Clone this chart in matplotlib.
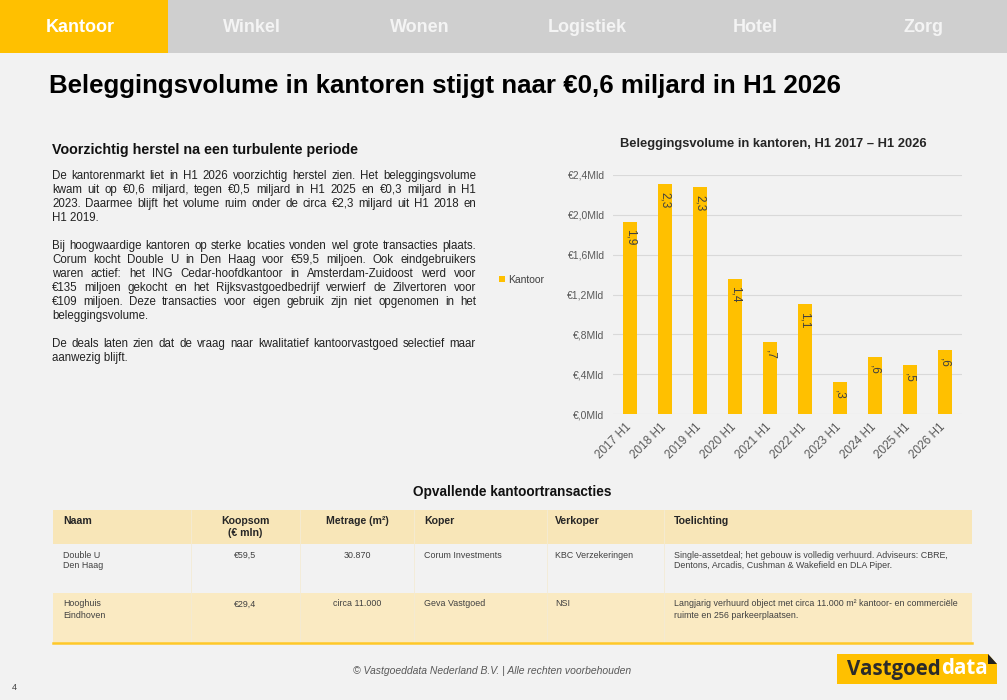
import numpy as np
import matplotlib.pyplot as plt
from matplotlib.patches import Rectangle, Polygon
from matplotlib.font_manager import FontProperties
from matplotlib.transforms import ScaledTranslation

plt.rcParams['font.family'] = ['Liberation Sans', 'DejaVu Sans']

# --- data ---
nav_tabs = ['Kantoor', 'Winkel', 'Wonen', 'Logistiek', 'Hotel', 'Zorg']

categories = ['2017 H1', '2018 H1', '2019 H1', '2020 H1', '2021 H1',
              '2022 H1', '2023 H1', '2024 H1', '2025 H1', '2026 H1']
volume = [1.93, 2.31, 2.28, 1.36, 0.72, 1.10, 0.32, 0.57, 0.49, 0.64]  # mld euro
bar_labels = ['1,9', '2,3', '2,3', '1,4', ',7', '1,1', ',3', ',6', ',5', ',6']
y_ticks = [0, 0.4, 0.8, 1.2, 1.6, 2.0, 2.4]
y_ticklabels = ['€,0Mld', '€,4Mld', '€,8Mld', '€1,2Mld', '€1,6Mld', '€2,0Mld', '€2,4Mld']

paragraphs = [
    ['De kantorenmarkt liet in H1 2026 voorzichtig herstel zien. Het beleggingsvolume',
     'kwam uit op €0,6 miljard, tegen €0,5 miljard in H1 2025 en €0,3 miljard in H1',
     '2023. Daarmee blijft het volume ruim onder de circa €2,3 miljard uit H1 2018 en',
     'H1 2019.'],
    ['Bij hoogwaardige kantoren op sterke locaties vonden wel grote transacties plaats.',
     'Corum kocht Double U in Den Haag voor €59,5 miljoen. Ook eindgebruikers',
     'waren actief: het ING Cedar-hoofdkantoor in Amsterdam-Zuidoost werd voor',
     '€135 miljoen gekocht en het Rijksvastgoedbedrijf verwierf de Zilvertoren voor',
     '€109 miljoen. Deze transacties voor eigen gebruik zijn niet opgenomen in het',
     'beleggingsvolume.'],
    ['De deals laten zien dat de vraag naar kwalitatief kantoorvastgoed selectief maar',
     'aanwezig blijft.'],
]

table_cols = ['Naam', 'Koopsom\n(€ mln)', 'Metrage (m²)', 'Koper', 'Verkoper', 'Toelichting']
table_rows = [
    ['Double U\nDen Haag', '€59,5', '30.870', 'Corum Investments', 'KBC Verzekeringen',
     'Single-assetdeal; het gebouw is volledig verhuurd. Adviseurs: CBRE,\n'
     'Dentons, Arcadis, Cushman & Wakefield en DLA Piper.'],
    ['Hooghuis\nEindhoven', '€29,4', 'circa 11.000', 'Geva Vastgoed', 'NSI',
     'Langjarig verhuurd object met circa 11.000 m² kantoor- en commerciële\n'
     'ruimte en 256 parkeerplaatsen.'],
]

# --- styling ---
YELLOW = '#FFC000'
BG = '#F2F2F2'
W, H = 1007, 700

fig = plt.figure(figsize=(W / 100, H / 100), dpi=100)
fig.patch.set_facecolor(BG)

# pagina-as in pixelcoordinaten
pg = fig.add_axes([0, 0, 1, 1])
pg.set_xlim(0, W)
pg.set_ylim(H, 0)
pg.axis('off')

# navigatiebalk
tab_w = W / len(nav_tabs)
for i, lab in enumerate(nav_tabs):
    pg.add_patch(Rectangle((i * tab_w, 0), tab_w, 53,
                           color=YELLOW if i == 0 else '#CFCFCF', lw=0))
    pg.text((i + 0.5) * tab_w - (4 if i == 0 else 0), 27, lab, ha='center', va='center',
            fontsize=13, weight='bold', color='white' if i == 0 else '#F4F4F4')

pg.text(49, 86, 'Beleggingsvolume in kantoren stijgt naar €0,6 miljard in H1 2026',
        ha='left', va='center', fontsize=18.6, weight='bold', color='black')

pg.text(52, 150, 'Voorzichtig herstel na een turbulente periode',
        ha='left', va='center', fontsize=10.3, weight='bold', color='#111111')

# uitgevulde tekst
fig.canvas.draw()
rend = fig.canvas.get_renderer()
body_fp = FontProperties(family='Liberation Sans', size=8.3)


def text_w(s, fp):
    w, h, d = rend.get_text_width_height_descent(s, fp, ismath=False)
    return w


tx = fig.add_axes([0, 0, 473 / W, 1])
tx.set_xlim(0, 473)
tx.set_ylim(H, 0)
tx.axis('off')

x0, x1 = 52, 476
y = 175
for para in paragraphs:
    for k, line in enumerate(para):
        words = line.split(' ')
        last = k == len(para) - 1
        if last or len(words) == 1:
            t = tx.text(x0, y + 4, line, ha='left', va='baseline', fontproperties=body_fp,
                        color='#222222')
            t.set_clip_box(tx.bbox)
        else:
            ws = [text_w(wd, body_fp) for wd in words]
            gap = (x1 - x0 - sum(ws)) / (len(words) - 1)
            xx = x0
            for wd, wdw in zip(words, ws):
                t = tx.text(xx, y + 4, wd, ha='left', va='baseline', fontproperties=body_fp,
                            color='#222222')
                t.set_clip_box(tx.bbox)
                xx += wdw + gap
        y += 14
    y += 14

# --- grafiek ---
pg.text(773, 144, 'Beleggingsvolume in kantoren, H1 2017 – H1 2026', ha='center',
        va='center', fontsize=9.3, weight='bold', color='#262626')

ax = fig.add_axes([613 / W, 1 - 414 / H, 349 / W, 239 / H])
ax.set_facecolor('none')
x = np.arange(len(categories))
ax.bar(x, volume, width=0.4, color=YELLOW, label='Kantoor', zorder=2)
ax.set_xlim(-0.5, len(categories) - 0.5)
ax.set_ylim(0, 2.4)
ax.set_yticks(y_ticks, y_ticklabels)
ax.yaxis.grid(True, color='#D9D9D9', lw=0.8)
ax.set_axisbelow(True)
for s in ax.spines.values():
    s.set_visible(False)
ax.tick_params(length=0)
ax.tick_params(axis='y', pad=6, labelsize=7.5, labelcolor='#595959')
ax.set_xticks(x, categories, rotation=45, ha='right', rotation_mode='anchor')
ax.tick_params(axis='x', pad=5, labelsize=8.5, labelcolor='#595959')
shift = ScaledTranslation(-5 / 100, 0, fig.dpi_scale_trans)
for lbl in ax.get_xticklabels():
    lbl.set_transform(lbl.get_transform() + shift)

for xi, v, lab in zip(x, volume, bar_labels):
    ax.annotate(lab, (xi, v), xytext=(0, -5.5), textcoords='offset points',
                rotation=-90, ha='center', va='top', fontsize=8.5, color='#404040')

ax.legend(loc='center left', bbox_to_anchor=(494 / W, 1 - 280 / H),
          bbox_transform=fig.transFigure, frameon=False, fontsize=7.5,
          handlelength=0.55, handleheight=0.55, handletextpad=0.3, borderpad=0,
          labelcolor='#404040')

# --- tabel ---
pg.text(512, 492, 'Opvallende kantoortransacties', ha='center', va='center',
        fontsize=9.8, weight='bold', color='#111111')

col_edges = [53, 191, 300, 414, 547, 664, 972]
col_align = ['left', 'center', 'center', 'left', 'left', 'left']
row_tops = [510, 544, 593, 643]
row_colors = ['#F8E6B8', BG, '#FAEAC2']

for top, bot, c in zip(row_tops[:-1], row_tops[1:], row_colors):
    pg.add_patch(Rectangle((col_edges[0], top), col_edges[-1] - col_edges[0], bot - top,
                           color=c, lw=0))
for ce in col_edges[1:-1]:
    pg.plot([ce, ce], [row_tops[0], row_tops[-1]], color='#F4EBD5', lw=0.6)
pg.plot([col_edges[0], col_edges[-1]], [row_tops[-1], row_tops[-1]], color='#FFC828', lw=1.8)


def cell(j, ytop, txt, size, weight, lh):
    for k, ln in enumerate(txt.split('\n')):
        if col_align[j] == 'center':
            xx = (col_edges[j] + col_edges[j + 1]) / 2
        else:
            xx = col_edges[j] + (8 if j == 4 else 10)
        pg.text(xx, ytop + k * lh, ln, ha=col_align[j], va='center', fontsize=size,
                weight=weight, color='#262626' if weight == 'bold' else '#404040')


for j, c in enumerate(table_cols):
    cell(j, 521.5, c, 7.6, 'bold', 11.6)
for r, row in enumerate(table_rows):
    for j, c in enumerate(row):
        cell(j, [555, 604][r], c, 6.4, 'normal', 11)

# --- voettekst ---
pg.text(492, 671, '© Vastgoeddata Nederland B.V. | Alle rechten voorbehouden',
        ha='center', va='center', fontsize=7.5, style='italic', color='#595959')
pg.text(12, 687, '4', ha='left', va='center', fontsize=6.5, color='#404040')

# logo
pg.add_patch(Rectangle((837, 654), 160, 30, color=YELLOW, lw=0))
pg.add_patch(Polygon([(988, 654), (997, 654), (997, 664)], closed=True, color=BG, lw=0))
pg.add_patch(Polygon([(988, 654), (997, 664), (988, 664)], closed=True, color='#222222', lw=0))
logo_fp = FontProperties(family='Open Sans', weight='bold', size=14.8)
pg.text(847, 669, 'Vastgoed', ha='left', va='center', fontproperties=logo_fp, color='#2B2B2B')
pg.text(847 + text_w('Vastgoed', logo_fp), 669, 'data', ha='left', va='center',
        fontproperties=logo_fp, color='white')

fig.savefig('out.png', dpi=100, facecolor=BG)
